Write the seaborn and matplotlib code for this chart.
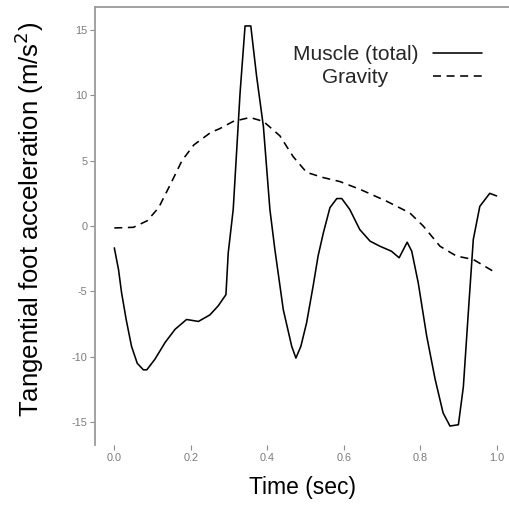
import matplotlib
matplotlib.use("Agg")
import matplotlib.pyplot as plt
import seaborn as sns
import pandas as pd

# Tangential foot acceleration components over the stride (s, m/s^2)
time_muscle = [0.000, 0.011, 0.019, 0.031, 0.045, 0.060, 0.076, 0.085, 0.106, 0.133,
               0.159, 0.189, 0.220, 0.250, 0.272, 0.292, 0.298, 0.311, 0.329, 0.342,
               0.357, 0.372, 0.390, 0.407, 0.420, 0.442, 0.464, 0.475, 0.488, 0.503,
               0.520, 0.533, 0.547, 0.564, 0.582, 0.595, 0.616, 0.642, 0.669, 0.695,
               0.725, 0.745, 0.766, 0.778, 0.795, 0.817, 0.839, 0.860, 0.878, 0.900,
               0.913, 0.926, 0.939, 0.956, 0.982, 1.000]
accel_muscle = [-1.67, -3.33, -5.1, -7.15, -9.2, -10.5, -11.0, -11.0, -10.2, -8.9,
                -7.9, -7.15, -7.3, -6.8, -6.1, -5.25, -2.05, 1.26, 10.2, 15.3,
                15.3, 11.5, 7.6, 1.26, -1.8, -6.4, -9.2, -10.1, -9.2, -7.4,
                -4.6, -2.3, -0.5, 1.4, 2.1, 2.1, 1.26, -0.27, -1.16, -1.55,
                -1.93, -2.43, -1.24, -1.93, -4.35, -8.4, -11.7, -14.3, -15.3, -15.2,
                -12.3, -6.6, -1.03, 1.5, 2.5, 2.3]

time_gravity = [0.0, 0.050, 0.086, 0.116, 0.147, 0.177, 0.208, 0.252, 0.276, 0.311,
                0.355, 0.390, 0.433, 0.468, 0.503, 0.547, 0.590, 0.643, 0.712, 0.773,
                0.808, 0.852, 0.895, 0.939, 0.991]
accel_gravity = [-0.15, -0.1, 0.4, 1.4, 3.2, 5.0, 6.2, 7.15, 7.45, 8.0,
                 8.3, 8.0, 6.9, 5.3, 4.1, 3.7, 3.4, 2.8, 1.9, 1.0,
                 0.0, -1.55, -2.3, -2.56, -3.46]

series_names = ["Muscle (total)", "Gravity"]
x_ticks = [0.0, 0.2, 0.4, 0.6, 0.8, 1.0]
y_ticks = [-15, -10, -5, 0, 5, 10, 15]

df = pd.concat([
    pd.DataFrame({"time": time_muscle, "accel": accel_muscle, "series": series_names[0]}),
    pd.DataFrame({"time": time_gravity, "accel": accel_gravity, "series": series_names[1]}),
], ignore_index=True)

sns.set_theme(style="white")
plt.rcParams["font.family"] = ["Liberation Sans", "DejaVu Sans"]
plt.rcParams["axes.unicode_minus"] = False

fig = plt.figure(figsize=(5.10, 5.07), dpi=100)
ax = fig.add_axes([95 / 510, 1 - 445 / 507, 415 / 510, 438 / 507])

sns.lineplot(data=df, x="time", y="accel", style="series", style_order=series_names,
             dashes={series_names[0]: "", series_names[1]: (5, 3.5)},
             color="black", linewidth=1.15, estimator=None, sort=False, ax=ax)

ax.set_xlim(-0.0505, 1.035)
ax.set_ylim(-16.75, 16.75)
ax.set_xticks(x_ticks)
ax.set_xticklabels([f"{v:.1f}" for v in x_ticks])
ax.set_yticks(y_ticks)
ax.set_yticklabels([str(v) for v in y_ticks])

grey = "#8c8c8c"
for side in ("right", "bottom"):
    ax.spines[side].set_visible(False)
for side in ("left", "top"):
    ax.spines[side].set_color("#9a9a9a")
    ax.spines[side].set_linewidth(1.3)

ax.tick_params(axis="both", which="major", direction="out", length=3.5, width=0.8,
               color=grey, labelcolor="#7a7a7a", labelsize=7.8, pad=2,
               bottom=True, left=True)

ax.set_xlabel("Time (sec)", fontsize=16.5, color="black")
ax.set_ylabel("Tangential foot acceleration (m/s$^2$)", fontsize=18.5, color="black")
ax.xaxis.set_label_coords(0.5, -0.07)
ax.yaxis.set_label_coords(-0.118, 0.514)

leg = ax.legend(loc="upper right", bbox_to_anchor=(0.9325, 0.913), frameon=False,
                markerfirst=False, fontsize=15, borderpad=0, borderaxespad=0,
                labelspacing=0.2, handlelength=2.35, handletextpad=0.72)
for line in leg.get_lines():
    line.set_linewidth(1.15)

# centre the legend labels over each other
fig.canvas.draw()
renderer = fig.canvas.get_renderer()
texts = leg.get_texts()
widths = [t.get_window_extent(renderer).width for t in texts]
wmax = max(widths)
for t, w in zip(texts, widths):
    t.set_x(-(wmax - w) / 2)

fig.savefig("out.png", dpi=100, facecolor="white")
